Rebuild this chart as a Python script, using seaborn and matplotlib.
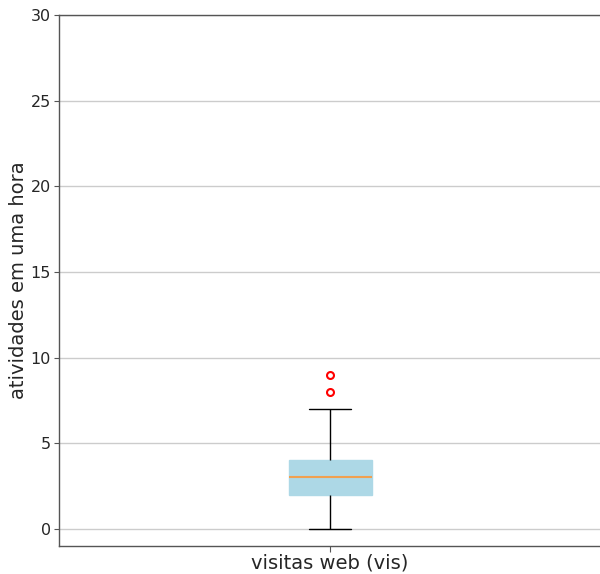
import matplotlib
matplotlib.use('Agg')
import matplotlib.pyplot as plt
import numpy as np
import pandas as pd
import seaborn as sns

# atividades por hora (valor -> quantidade de horas observadas)
valores = [0, 1, 2, 3, 4, 5, 6, 7, 8, 9]
contagens = [3, 8, 12, 14, 10, 5, 3, 2, 1, 1]
categoria = 'visitas web (vis)'
y_ticks = [0, 5, 10, 15, 20, 25, 30]

df = pd.DataFrame({'atividades': np.repeat(valores, contagens)})
df['tipo'] = categoria

sns.set_style('white')
plt.rcParams['font.family'] = ['DejaVu Sans']

fig = plt.figure(figsize=(6.0, 5.74), dpi=100)
ax = fig.add_axes([59 / 600, 28 / 574, 1 - 59 / 600 + 0.002, 531 / 574])

sns.boxplot(data=df, x='tipo', y='atividades', ax=ax, width=0.153, saturation=1,
            color='lightblue', linewidth=1,
            boxprops=dict(facecolor='lightblue', edgecolor='lightblue'),
            whiskerprops=dict(color='black', linewidth=1),
            capprops=dict(color='black', linewidth=1),
            medianprops=dict(color='#f0a050', linewidth=1.5),
            flierprops=dict(marker='o', markerfacecolor='none', markeredgecolor='red',
                            markeredgewidth=1.5, markersize=5))

ax.set_ylim(-1, 30)
ax.set_xlim(-0.5, 0.5)
ax.set_yticks(y_ticks)
ax.yaxis.grid(True, color='#cccccc', linewidth=1)
ax.set_axisbelow(True)
ax.set_ylabel('atividades em uma hora', fontsize=14, labelpad=2)
ax.set_xlabel('')
ax.tick_params(axis='y', labelsize=11.5, length=3.5, pad=2.5, left=True, color='#555555')
ax.tick_params(axis='x', labelsize=14, length=4, bottom=True, color='#555555', pad=1.5)
for s in ax.spines.values():
    s.set_color('#555555')
    s.set_linewidth(1)

fig.savefig('out.png', dpi=100)
